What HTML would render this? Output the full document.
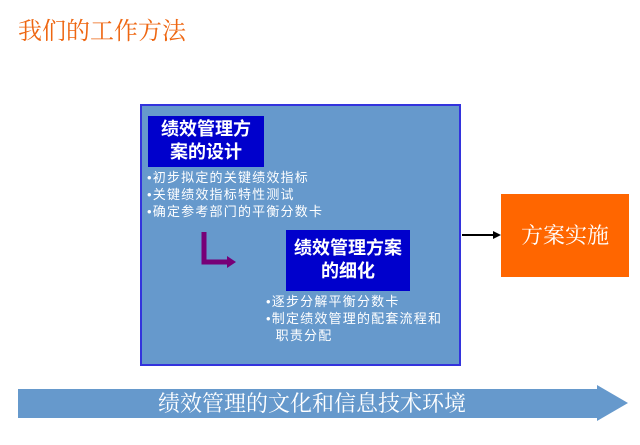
<!DOCTYPE html>
<html><head><meta charset="utf-8"><style>
body{margin:0;width:640px;height:445px;background:#fff;position:relative;overflow:hidden;font-family:"Liberation Serif","Noto Serif CJK SC",serif}
div{position:absolute;box-sizing:border-box}
.lbl{background:#0000cc;color:#fff;text-align:center;font-family:"Liberation Sans","Noto Sans CJK SC",sans-serif;font-weight:bold;font-size:18px;line-height:23px;padding-top:2px}
.b{color:#fff;font-family:"Liberation Sans","Noto Sans CJK SC",sans-serif;font-size:13px;letter-spacing:1.2px;line-height:17px;white-space:nowrap}
</style></head><body>
<div style="left:18px;top:16px;font-size:24px;color:#ee6611;line-height:32px">我们的工作方法</div>
<div style="left:140px;top:104px;width:321px;height:262px;background:#6699cc;border:2px solid #3333dd"></div>
<div class="lbl" style="left:148px;top:116px;width:116px;height:51px">绩效管理方<br>案的设计</div>
<div class="b" style="left:147px;top:169px">•初步拟定的关键绩效指标<br>•关键绩效指标特性测试<br>•确定参考部门的平衡分数卡</div>
<div class="lbl" style="left:286px;top:230px;width:124px;height:61px;padding-top:7px">绩效管理方案<br>的细化</div>
<div class="b" style="left:266px;top:293px">•逐步分解平衡分数卡<br>•制定绩效管理的配套流程和<br>&nbsp;&nbsp;职责分配</div>
<svg style="position:absolute;left:0;top:0" width="640" height="445">
<path d="M204 232 V262 H228" fill="none" stroke="#770077" stroke-width="5"/>
<polygon points="227,256 236,262 227,268" fill="#770077"/>
<line x1="462" y1="235" x2="494" y2="235" stroke="#000" stroke-width="2"/>
<polygon points="493,231 501,235 493,239" fill="#000"/>
<polygon points="18,389 597,389 597,385 628,403 597,421 597,418 18,418" fill="#6699cc"/>
</svg>
<div style="left:501px;top:194px;width:128px;height:83px;background:#ff6600;color:#fff;font-size:22px;text-align:center;line-height:83px">方案实施</div>
<div style="left:158px;top:389px;color:#fff;font-size:22px;line-height:30px">绩效管理的文化和信息技术环境</div>
</body></html>
